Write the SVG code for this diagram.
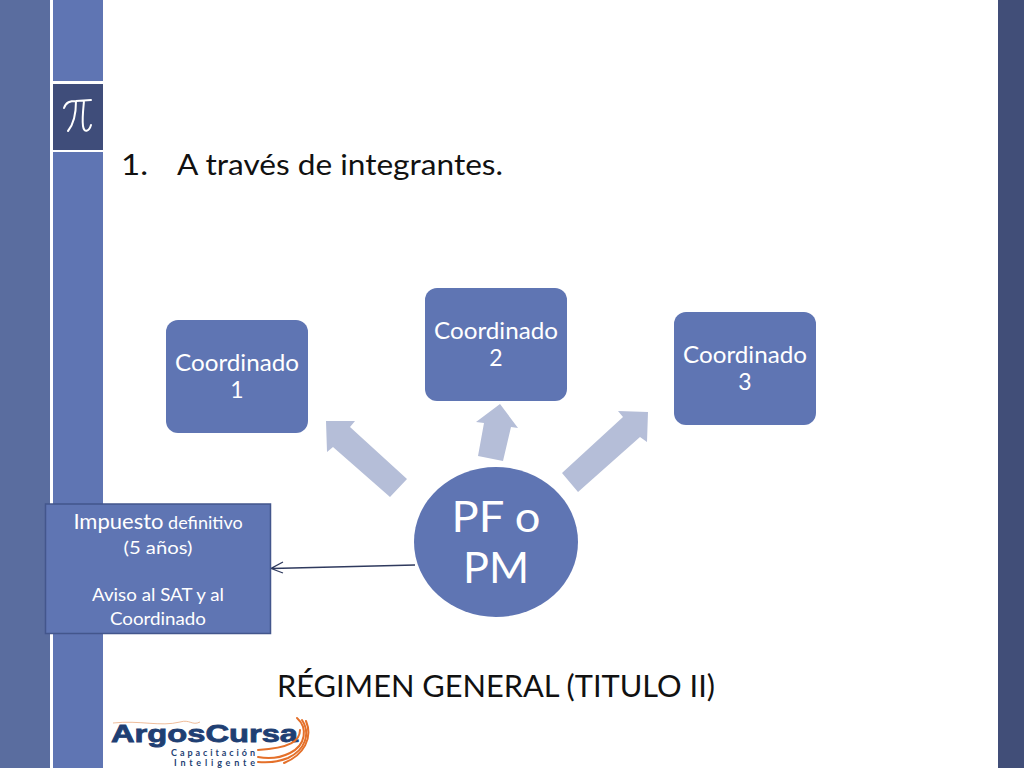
<svg xmlns="http://www.w3.org/2000/svg" width="1024" height="768" viewBox="0 0 1024 768">
<style>
text{font-family:Lato,"Noto Sans","Liberation Sans",sans-serif}
.w{fill:#fff;text-anchor:middle}
.c{font-size:23px}
.s{font-size:17px}
.n{fill:#5f75b3}
.a{fill:#b5bed8}
</style>
<rect width="1024" height="768" fill="#fff"/>
<g id="background">
<rect x="0" y="0" width="50" height="768" fill="#5a6d9f"/>
<rect x="53" y="0" width="50" height="81" fill="#5f75b3"/>
<rect x="53" y="84" width="50" height="66" fill="#3f4d7a"/>
<rect x="53" y="152" width="50" height="616" fill="#5f75b3"/>
<rect x="998" y="0" width="26" height="768" fill="#414e78"/>
<path d="M64 108C66 102 70 101 76 101L91 100M76 101C76 113 73 125 68 131M84 101C83 111 82 120 83 126C84 133 89 132 91 125" fill="none" stroke="#fff" stroke-width="2" stroke-linecap="round"/>
</g>
<text x="121" y="175" font-size="29" fill="#111" textLength="27" lengthAdjust="spacingAndGlyphs">1.</text>
<text x="177" y="175" font-size="29" fill="#111" textLength="326" lengthAdjust="spacingAndGlyphs">A través de integrantes.</text>
<g id="connectors">
<path class="a" d="M326 421L355 421L350 427L407 479L390 497L333 447L327 452Z"/>
<path class="a" d="M500 404L518 428L511 427L503 461L478 456L484 423L476 422Z"/>
<path class="a" d="M648 412L647 442L640 437L578 492L562 473L623 417L618 411Z"/>
<path d="M415 565L272 568.500M283 562L271 568.500L283 573" fill="none" stroke="#2f3a5e" stroke-width="1.300"/>
</g>
<g id="coord1"><rect class="n" x="166" y="320" width="142" height="113" rx="12"/><text class="w c" x="237" y="371" textLength="124" lengthAdjust="spacingAndGlyphs">Coordinado</text><text class="w c" x="237" y="398">1</text></g>
<g id="coord2"><rect class="n" x="425" y="288" width="142" height="113" rx="12"/><text class="w c" x="496" y="339" textLength="124" lengthAdjust="spacingAndGlyphs">Coordinado</text><text class="w c" x="496" y="366">2</text></g>
<g id="coord3"><rect class="n" x="674" y="312" width="142" height="113" rx="12"/><text class="w c" x="745" y="363" textLength="124" lengthAdjust="spacingAndGlyphs">Coordinado</text><text class="w c" x="745" y="390">3</text></g>
<g id="center"><ellipse class="n" cx="496" cy="542" rx="82" ry="75"/><text class="w" x="496" y="532" font-size="43" textLength="89" lengthAdjust="spacingAndGlyphs">PF o</text><text class="w" x="496" y="583" font-size="43" textLength="66" lengthAdjust="spacingAndGlyphs">PM</text></g>
<g id="note"><rect x="45.500" y="504" width="225" height="129.500" fill="#5f75b3" stroke="#43568c" stroke-width="1.500"/>
<text class="w" x="158" y="529"><tspan font-size="22">Impuesto</tspan><tspan font-size="18"> definitivo</tspan></text>
<text class="w s" x="158" y="554" textLength="69" lengthAdjust="spacingAndGlyphs">(5 años)</text>
<text class="w s" x="158" y="601" textLength="132" lengthAdjust="spacingAndGlyphs">Aviso al SAT y al</text>
<text class="w s" x="158" y="625" textLength="96" lengthAdjust="spacingAndGlyphs">Coordinado</text></g>
<text x="277" y="697" font-size="30" fill="#111" textLength="438" lengthAdjust="spacingAndGlyphs">RÉGIMEN GENERAL (TITULO II)</text>
<g id="logo">
<path d="M113 723C140 720 160 727 180 722C190 719 192 726 200 722" fill="none" stroke="#e8a070" stroke-width=".7"/>
<text x="111" y="742" font-size="24" font-weight="900" fill="#1f3f73" style="font-family:'Liberation Sans',sans-serif" textLength="187" lengthAdjust="spacingAndGlyphs" stroke="#1f3f73" stroke-width=".8">ArgosCursa</text>
<text x="171" y="756" font-size="9" font-weight="700" fill="#1f3f73" textLength="84">Capacitación</text>
<text x="174" y="766" font-size="9" font-weight="700" fill="#1f3f73" textLength="81">Inteligente</text>
<g fill="none" stroke="#e4702a" stroke-linecap="round">
<path d="M297 718C308 728 306 745 290 753C280 758 268 759 258 757" stroke-width="2"/>
<path d="M302 720C311 734 305 750 288 758C278 762 268 763 258 762" stroke-width="2"/>
<path d="M306 721C313 738 304 755 284 763" stroke-width="2"/>
<path d="M300 730C300 741 290 748 258 750" stroke-width="2"/>
</g>
</g>
</svg>
